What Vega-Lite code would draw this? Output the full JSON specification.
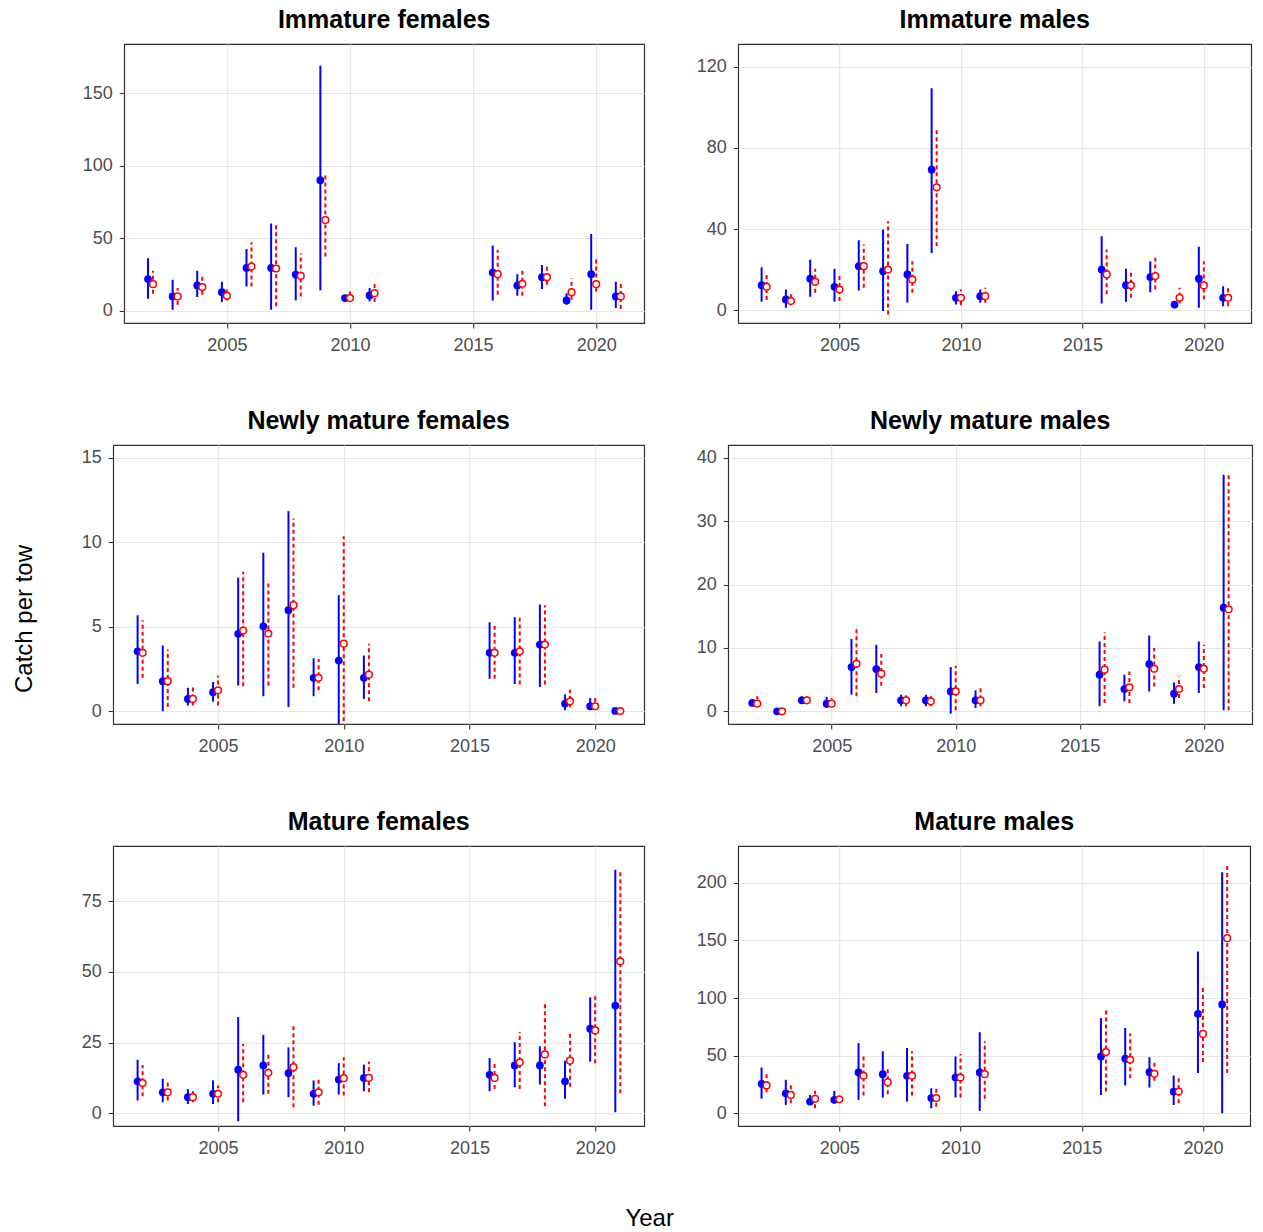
{
  "$schema": "https://vega.github.io/schema/vega-lite/v6.json",
  "padding": {"left": 12, "top": 7, "right": 0, "bottom": 0},
  "background": "white",
  "datasets": {
    "catch": [
      {"panel":"Immature females","series":"A","year":2002,"est":21.8,"lo":8.2,"hi":36.2},
      {"panel":"Immature females","series":"A","year":2003,"est":9.8,"lo":0.7,"hi":21.3},
      {"panel":"Immature females","series":"A","year":2004,"est":17.4,"lo":9.4,"hi":27.5},
      {"panel":"Immature females","series":"A","year":2005,"est":12.8,"lo":6.0,"hi":19.9},
      {"panel":"Immature females","series":"A","year":2006,"est":29.5,"lo":16.7,"hi":42.6},
      {"panel":"Immature females","series":"A","year":2007,"est":29.5,"lo":0.7,"hi":60.2},
      {"panel":"Immature females","series":"A","year":2008,"est":24.9,"lo":7.1,"hi":43.7},
      {"panel":"Immature females","series":"A","year":2009,"est":90.0,"lo":14.0,"hi":169.0},
      {"panel":"Immature females","series":"A","year":2010,"est":8.7,"lo":7.0,"hi":11.0},
      {"panel":"Immature females","series":"A","year":2011,"est":10.5,"lo":6.4,"hi":15.6},
      {"panel":"Immature females","series":"A","year":2016,"est":26.3,"lo":6.9,"hi":44.9},
      {"panel":"Immature females","series":"A","year":2017,"est":17.4,"lo":10.3,"hi":25.2},
      {"panel":"Immature females","series":"A","year":2018,"est":23.1,"lo":14.9,"hi":31.6},
      {"panel":"Immature females","series":"A","year":2019,"est":7.1,"lo":4.1,"hi":12.1},
      {"panel":"Immature females","series":"A","year":2020,"est":25.2,"lo":0.7,"hi":52.9},
      {"panel":"Immature females","series":"A","year":2021,"est":9.8,"lo":1.8,"hi":19.9},
      {"panel":"Immature females","series":"B","year":2002,"est":18.3,"lo":11.7,"hi":27.5},
      {"panel":"Immature females","series":"B","year":2003,"est":9.8,"lo":4.1,"hi":15.6},
      {"panel":"Immature females","series":"B","year":2004,"est":16.3,"lo":11.0,"hi":24.5},
      {"panel":"Immature females","series":"B","year":2005,"est":10.3,"lo":7.1,"hi":16.7},
      {"panel":"Immature females","series":"B","year":2006,"est":30.4,"lo":16.7,"hi":47.2},
      {"panel":"Immature females","series":"B","year":2007,"est":29.1,"lo":3.0,"hi":60.2},
      {"panel":"Immature females","series":"B","year":2008,"est":24.0,"lo":9.8,"hi":39.6},
      {"panel":"Immature females","series":"B","year":2009,"est":62.5,"lo":37.3,"hi":93.4},
      {"panel":"Immature females","series":"B","year":2010,"est":8.7,"lo":6.4,"hi":13.3},
      {"panel":"Immature females","series":"B","year":2011,"est":12.1,"lo":6.0,"hi":18.5},
      {"panel":"Immature females","series":"B","year":2016,"est":25.2,"lo":11.0,"hi":41.9},
      {"panel":"Immature females","series":"B","year":2017,"est":18.5,"lo":10.3,"hi":28.6},
      {"panel":"Immature females","series":"B","year":2018,"est":23.1,"lo":17.9,"hi":30.9},
      {"panel":"Immature females","series":"B","year":2019,"est":12.8,"lo":7.6,"hi":22.4},
      {"panel":"Immature females","series":"B","year":2020,"est":18.3,"lo":13.3,"hi":35.5},
      {"panel":"Immature females","series":"B","year":2021,"est":9.8,"lo":1.2,"hi":19.4},

      {"panel":"Immature males","series":"A","year":2002,"est":12.4,"lo":4.3,"hi":21.3},
      {"panel":"Immature males","series":"A","year":2003,"est":5.4,"lo":1.3,"hi":10.3},
      {"panel":"Immature males","series":"A","year":2004,"est":15.6,"lo":6.7,"hi":25.0},
      {"panel":"Immature males","series":"A","year":2005,"est":11.6,"lo":4.3,"hi":20.5},
      {"panel":"Immature males","series":"A","year":2006,"est":21.8,"lo":9.8,"hi":34.5},
      {"panel":"Immature males","series":"A","year":2007,"est":19.3,"lo":-0.3,"hi":39.8},
      {"panel":"Immature males","series":"A","year":2008,"est":17.7,"lo":3.8,"hi":32.7},
      {"panel":"Immature males","series":"A","year":2009,"est":69.3,"lo":28.3,"hi":109.4},
      {"panel":"Immature males","series":"A","year":2010,"est":6.2,"lo":2.9,"hi":9.5},
      {"panel":"Immature males","series":"A","year":2011,"est":7.0,"lo":3.8,"hi":10.3},
      {"panel":"Immature males","series":"A","year":2016,"est":20.1,"lo":3.4,"hi":36.5},
      {"panel":"Immature males","series":"A","year":2017,"est":12.4,"lo":4.3,"hi":20.5},
      {"panel":"Immature males","series":"A","year":2018,"est":16.4,"lo":9.0,"hi":24.2},
      {"panel":"Immature males","series":"A","year":2019,"est":2.9,"lo":2.1,"hi":4.6},
      {"panel":"Immature males","series":"A","year":2020,"est":15.6,"lo":1.3,"hi":31.3},
      {"panel":"Immature males","series":"A","year":2021,"est":6.2,"lo":2.1,"hi":11.9},
      {"panel":"Immature males","series":"B","year":2002,"est":11.6,"lo":5.1,"hi":18.0},
      {"panel":"Immature males","series":"B","year":2003,"est":4.6,"lo":2.6,"hi":7.9},
      {"panel":"Immature males","series":"B","year":2004,"est":14.1,"lo":8.7,"hi":20.5},
      {"panel":"Immature males","series":"B","year":2005,"est":10.3,"lo":4.6,"hi":16.9},
      {"panel":"Immature males","series":"B","year":2006,"est":21.8,"lo":11.1,"hi":32.4},
      {"panel":"Immature males","series":"B","year":2007,"est":20.1,"lo":-2.0,"hi":43.9},
      {"panel":"Immature males","series":"B","year":2008,"est":15.2,"lo":8.7,"hi":24.2},
      {"panel":"Immature males","series":"B","year":2009,"est":60.6,"lo":31.6,"hi":90.2},
      {"panel":"Immature males","series":"B","year":2010,"est":6.2,"lo":2.6,"hi":10.3},
      {"panel":"Immature males","series":"B","year":2011,"est":7.0,"lo":3.8,"hi":11.1},
      {"panel":"Immature males","series":"B","year":2016,"est":17.7,"lo":7.9,"hi":30.0},
      {"panel":"Immature males","series":"B","year":2017,"est":12.4,"lo":6.2,"hi":20.1},
      {"panel":"Immature males","series":"B","year":2018,"est":16.9,"lo":10.3,"hi":25.9},
      {"panel":"Immature males","series":"B","year":2019,"est":6.2,"lo":3.4,"hi":11.1},
      {"panel":"Immature males","series":"B","year":2020,"est":12.3,"lo":5.4,"hi":24.2},
      {"panel":"Immature males","series":"B","year":2021,"est":6.2,"lo":2.1,"hi":11.1},

      {"panel":"Newly mature females","series":"A","year":2002,"est":3.55,"lo":1.62,"hi":5.68},
      {"panel":"Newly mature females","series":"A","year":2003,"est":1.78,"lo":0.0,"hi":3.89},
      {"panel":"Newly mature females","series":"A","year":2004,"est":0.73,"lo":0.34,"hi":1.39},
      {"panel":"Newly mature females","series":"A","year":2005,"est":1.13,"lo":0.56,"hi":1.74},
      {"panel":"Newly mature females","series":"A","year":2006,"est":4.58,"lo":1.52,"hi":7.9},
      {"panel":"Newly mature females","series":"A","year":2007,"est":5.03,"lo":0.89,"hi":9.38},
      {"panel":"Newly mature females","series":"A","year":2008,"est":5.98,"lo":0.26,"hi":11.84},
      {"panel":"Newly mature females","series":"A","year":2009,"est":1.98,"lo":0.89,"hi":3.14},
      {"panel":"Newly mature females","series":"A","year":2010,"est":3.0,"lo":-1.0,"hi":6.87},
      {"panel":"Newly mature females","series":"A","year":2011,"est":1.98,"lo":0.73,"hi":3.3},
      {"panel":"Newly mature females","series":"A","year":2016,"est":3.46,"lo":1.92,"hi":5.27},
      {"panel":"Newly mature females","series":"A","year":2017,"est":3.46,"lo":1.62,"hi":5.57},
      {"panel":"Newly mature females","series":"A","year":2018,"est":3.95,"lo":1.44,"hi":6.32},
      {"panel":"Newly mature females","series":"A","year":2019,"est":0.46,"lo":0.06,"hi":0.99},
      {"panel":"Newly mature females","series":"A","year":2020,"est":0.3,"lo":0.06,"hi":0.79},
      {"panel":"Newly mature females","series":"A","year":2021,"est":0.02,"lo":0.0,"hi":0.05},
      {"panel":"Newly mature females","series":"B","year":2002,"est":3.46,"lo":1.98,"hi":5.39},
      {"panel":"Newly mature females","series":"B","year":2003,"est":1.78,"lo":0.26,"hi":3.65},
      {"panel":"Newly mature females","series":"B","year":2004,"est":0.73,"lo":0.34,"hi":1.44},
      {"panel":"Newly mature females","series":"B","year":2005,"est":1.24,"lo":0.34,"hi":2.11},
      {"panel":"Newly mature females","series":"B","year":2006,"est":4.78,"lo":1.48,"hi":8.25},
      {"panel":"Newly mature females","series":"B","year":2007,"est":4.6,"lo":1.52,"hi":7.7},
      {"panel":"Newly mature females","series":"B","year":2008,"est":6.28,"lo":1.39,"hi":11.41},
      {"panel":"Newly mature females","series":"B","year":2009,"est":1.98,"lo":1.24,"hi":3.1},
      {"panel":"Newly mature females","series":"B","year":2010,"est":4.0,"lo":-1.0,"hi":10.36},
      {"panel":"Newly mature females","series":"B","year":2011,"est":2.17,"lo":0.59,"hi":4.0},
      {"panel":"Newly mature females","series":"B","year":2016,"est":3.46,"lo":1.92,"hi":5.07},
      {"panel":"Newly mature females","series":"B","year":2017,"est":3.55,"lo":1.58,"hi":5.53},
      {"panel":"Newly mature females","series":"B","year":2018,"est":3.95,"lo":1.58,"hi":6.28},
      {"panel":"Newly mature females","series":"B","year":2019,"est":0.59,"lo":0.26,"hi":1.28},
      {"panel":"Newly mature females","series":"B","year":2020,"est":0.3,"lo":0.14,"hi":0.79},
      {"panel":"Newly mature females","series":"B","year":2021,"est":0.02,"lo":0.0,"hi":0.04},

      {"panel":"Newly mature males","series":"A","year":2002,"est":1.32,"lo":0.9,"hi":1.8},
      {"panel":"Newly mature males","series":"A","year":2003,"est":0.0,"lo":0.0,"hi":0.1},
      {"panel":"Newly mature males","series":"A","year":2004,"est":1.74,"lo":1.3,"hi":2.36},
      {"panel":"Newly mature males","series":"A","year":2005,"est":1.21,"lo":0.53,"hi":2.26},
      {"panel":"Newly mature males","series":"A","year":2006,"est":6.98,"lo":2.62,"hi":11.43},
      {"panel":"Newly mature males","series":"A","year":2007,"est":6.67,"lo":2.9,"hi":10.49},
      {"panel":"Newly mature males","series":"A","year":2008,"est":1.74,"lo":0.79,"hi":2.62},
      {"panel":"Newly mature males","series":"A","year":2009,"est":1.74,"lo":0.79,"hi":2.62},
      {"panel":"Newly mature males","series":"A","year":2010,"est":3.14,"lo":-0.37,"hi":6.98},
      {"panel":"Newly mature males","series":"A","year":2011,"est":1.74,"lo":0.53,"hi":3.3},
      {"panel":"Newly mature males","series":"A","year":2016,"est":5.77,"lo":0.79,"hi":11.0},
      {"panel":"Newly mature males","series":"A","year":2017,"est":3.52,"lo":1.57,"hi":5.77},
      {"panel":"Newly mature males","series":"A","year":2018,"est":7.45,"lo":3.14,"hi":11.95},
      {"panel":"Newly mature males","series":"A","year":2019,"est":2.78,"lo":1.21,"hi":4.56},
      {"panel":"Newly mature males","series":"A","year":2020,"est":6.98,"lo":2.9,"hi":11.0},
      {"panel":"Newly mature males","series":"A","year":2021,"est":16.35,"lo":0.16,"hi":37.3},
      {"panel":"Newly mature males","series":"B","year":2002,"est":1.21,"lo":0.79,"hi":2.36},
      {"panel":"Newly mature males","series":"B","year":2003,"est":0.0,"lo":0.0,"hi":0.2},
      {"panel":"Newly mature males","series":"B","year":2004,"est":1.74,"lo":1.2,"hi":2.36},
      {"panel":"Newly mature males","series":"B","year":2005,"est":1.21,"lo":0.79,"hi":2.1},
      {"panel":"Newly mature males","series":"B","year":2006,"est":7.5,"lo":2.36,"hi":13.0},
      {"panel":"Newly mature males","series":"B","year":2007,"est":5.93,"lo":4.04,"hi":9.02},
      {"panel":"Newly mature males","series":"B","year":2008,"est":1.74,"lo":0.79,"hi":2.99},
      {"panel":"Newly mature males","series":"B","year":2009,"est":1.57,"lo":0.79,"hi":2.36},
      {"panel":"Newly mature males","series":"B","year":2010,"est":3.14,"lo":0.16,"hi":7.19},
      {"panel":"Newly mature males","series":"B","year":2011,"est":1.74,"lo":0.79,"hi":3.68},
      {"panel":"Newly mature males","series":"B","year":2016,"est":6.56,"lo":1.32,"hi":12.48},
      {"panel":"Newly mature males","series":"B","year":2017,"est":3.78,"lo":1.32,"hi":6.29},
      {"panel":"Newly mature males","series":"B","year":2018,"est":6.71,"lo":3.93,"hi":9.97},
      {"panel":"Newly mature males","series":"B","year":2019,"est":3.52,"lo":2.1,"hi":5.5},
      {"panel":"Newly mature males","series":"B","year":2020,"est":6.71,"lo":3.68,"hi":10.49},
      {"panel":"Newly mature males","series":"B","year":2021,"est":16.1,"lo":0.16,"hi":37.3},

      {"panel":"Mature females","series":"A","year":2002,"est":11.3,"lo":4.5,"hi":18.9},
      {"panel":"Mature females","series":"A","year":2003,"est":7.4,"lo":3.9,"hi":12.2},
      {"panel":"Mature females","series":"A","year":2004,"est":5.7,"lo":3.3,"hi":8.6},
      {"panel":"Mature females","series":"A","year":2005,"est":6.9,"lo":3.3,"hi":11.6},
      {"panel":"Mature females","series":"A","year":2006,"est":15.4,"lo":-2.8,"hi":34.0},
      {"panel":"Mature females","series":"A","year":2007,"est":16.9,"lo":6.6,"hi":27.7},
      {"panel":"Mature females","series":"A","year":2008,"est":14.2,"lo":5.7,"hi":23.3},
      {"panel":"Mature females","series":"A","year":2009,"est":6.9,"lo":2.7,"hi":11.6},
      {"panel":"Mature females","series":"A","year":2010,"est":11.9,"lo":6.6,"hi":17.7},
      {"panel":"Mature females","series":"A","year":2011,"est":12.5,"lo":7.8,"hi":17.2},
      {"panel":"Mature females","series":"A","year":2016,"est":13.6,"lo":7.8,"hi":19.5},
      {"panel":"Mature females","series":"A","year":2017,"est":16.9,"lo":9.2,"hi":25.1},
      {"panel":"Mature females","series":"A","year":2018,"est":16.9,"lo":10.2,"hi":23.7},
      {"panel":"Mature females","series":"A","year":2019,"est":11.3,"lo":5.1,"hi":18.6},
      {"panel":"Mature females","series":"A","year":2020,"est":29.9,"lo":18.3,"hi":41.0},
      {"panel":"Mature females","series":"A","year":2021,"est":38.1,"lo":0.35,"hi":86.1},
      {"panel":"Mature females","series":"B","year":2002,"est":10.7,"lo":6.0,"hi":17.1},
      {"panel":"Mature females","series":"B","year":2003,"est":7.4,"lo":4.5,"hi":11.0},
      {"panel":"Mature females","series":"B","year":2004,"est":5.7,"lo":3.9,"hi":8.6},
      {"panel":"Mature females","series":"B","year":2005,"est":6.9,"lo":3.9,"hi":9.8},
      {"panel":"Mature females","series":"B","year":2006,"est":13.6,"lo":3.9,"hi":24.5},
      {"panel":"Mature females","series":"B","year":2007,"est":14.3,"lo":6.9,"hi":21.6},
      {"panel":"Mature females","series":"B","year":2008,"est":16.3,"lo":2.1,"hi":31.4},
      {"panel":"Mature females","series":"B","year":2009,"est":7.4,"lo":3.0,"hi":12.5},
      {"panel":"Mature females","series":"B","year":2010,"est":12.4,"lo":6.3,"hi":19.8},
      {"panel":"Mature females","series":"B","year":2011,"est":12.5,"lo":7.4,"hi":18.3},
      {"panel":"Mature females","series":"B","year":2016,"est":12.5,"lo":8.6,"hi":17.7},
      {"panel":"Mature females","series":"B","year":2017,"est":18.0,"lo":8.6,"hi":28.7},
      {"panel":"Mature females","series":"B","year":2018,"est":20.8,"lo":2.5,"hi":39.3},
      {"panel":"Mature females","series":"B","year":2019,"est":18.6,"lo":9.4,"hi":28.4},
      {"panel":"Mature females","series":"B","year":2020,"est":29.3,"lo":17.7,"hi":41.6},
      {"panel":"Mature females","series":"B","year":2021,"est":53.7,"lo":7.1,"hi":85.3},

      {"panel":"Mature males","series":"A","year":2002,"est":25.6,"lo":12.6,"hi":39.8},
      {"panel":"Mature males","series":"A","year":2003,"est":17.4,"lo":7.3,"hi":29.1},
      {"panel":"Mature males","series":"A","year":2004,"est":10.2,"lo":7.3,"hi":16.0},
      {"panel":"Mature males","series":"A","year":2005,"est":11.7,"lo":8.7,"hi":19.5},
      {"panel":"Mature males","series":"A","year":2006,"est":35.5,"lo":11.7,"hi":61.0},
      {"panel":"Mature males","series":"A","year":2007,"est":34.0,"lo":13.7,"hi":53.8},
      {"panel":"Mature males","series":"A","year":2008,"est":32.6,"lo":10.2,"hi":56.7},
      {"panel":"Mature males","series":"A","year":2009,"est":13.2,"lo":4.4,"hi":21.8},
      {"panel":"Mature males","series":"A","year":2010,"est":31.1,"lo":13.7,"hi":49.4},
      {"panel":"Mature males","series":"A","year":2011,"est":35.5,"lo":2.1,"hi":70.4},
      {"panel":"Mature males","series":"A","year":2016,"est":49.4,"lo":16.0,"hi":82.8},
      {"panel":"Mature males","series":"A","year":2017,"est":47.4,"lo":24.2,"hi":74.1},
      {"panel":"Mature males","series":"A","year":2018,"est":35.7,"lo":22.4,"hi":48.6},
      {"panel":"Mature males","series":"A","year":2019,"est":18.9,"lo":7.3,"hi":32.9},
      {"panel":"Mature males","series":"A","year":2020,"est":86.3,"lo":34.9,"hi":140.4},
      {"panel":"Mature males","series":"A","year":2021,"est":94.5,"lo":0.0,"hi":209.3},
      {"panel":"Mature males","series":"B","year":2002,"est":24.2,"lo":18.3,"hi":34.3},
      {"panel":"Mature males","series":"B","year":2003,"est":16.0,"lo":8.7,"hi":25.3},
      {"panel":"Mature males","series":"B","year":2004,"est":12.6,"lo":4.4,"hi":19.5},
      {"panel":"Mature males","series":"B","year":2005,"est":12.2,"lo":10.2,"hi":14.6},
      {"panel":"Mature males","series":"B","year":2006,"est":32.6,"lo":15.4,"hi":49.4},
      {"panel":"Mature males","series":"B","year":2007,"est":27.0,"lo":16.6,"hi":39.2},
      {"panel":"Mature males","series":"B","year":2008,"est":32.6,"lo":15.4,"hi":53.8},
      {"panel":"Mature males","series":"B","year":2009,"est":13.2,"lo":5.8,"hi":21.8},
      {"panel":"Mature males","series":"B","year":2010,"est":31.1,"lo":13.7,"hi":51.4},
      {"panel":"Mature males","series":"B","year":2011,"est":34.0,"lo":12.6,"hi":62.5},
      {"panel":"Mature males","series":"B","year":2016,"est":53.2,"lo":18.9,"hi":91.0},
      {"panel":"Mature males","series":"B","year":2017,"est":46.5,"lo":30.5,"hi":69.2},
      {"panel":"Mature males","series":"B","year":2018,"est":34.3,"lo":28.2,"hi":44.5},
      {"panel":"Mature males","series":"B","year":2019,"est":18.9,"lo":8.7,"hi":30.5},
      {"panel":"Mature males","series":"B","year":2020,"est":68.9,"lo":44.5,"hi":111.3},
      {"panel":"Mature males","series":"B","year":2021,"est":152.0,"lo":34.9,"hi":216.0}
    ]
  },
  "data": {"name": "catch"},
  "title": {"text": "Catch per tow", "orient": "left", "anchor": "middle", "frame": "bounds", "fontSize": 24, "fontWeight": "normal", "color": "#000000", "offset": 44},
  "vconcat": [
    {
      "title": {"text": "Year", "orient": "bottom", "anchor": "middle", "frame": "bounds", "fontSize": 24, "fontWeight": "normal", "color": "#000000", "offset": 49, "dx": -22},
      "spacing": 53,
      "center": true,
      "vconcat": [
        {
          "spacing": 50,
          "hconcat": [
            {
              "width": 520, "height": 279,
              "title": "Immature females",
              "transform": [{"filter": "datum.panel == 'Immature females'"}],
              "layer": [
                {"transform": [{"filter": "datum.series == 'A'"}],
                 "mark": {"type": "rule", "color": "#0000FF", "strokeWidth": 2, "xOffset": -5, "clip": true},
                 "encoding": {
                   "x": {"field": "year", "type": "quantitative", "scale": {"domain": [2000.83, 2021.95], "nice": false, "zero": false}, "axis": {"values": [2005, 2010, 2015, 2020], "format": "d"}},
                   "y": {"field": "lo", "type": "quantitative", "scale": {"domain": [-8.5, 184], "nice": false, "zero": false}, "axis": {"values": [0, 50, 100, 150]}},
                   "y2": {"field": "hi"}}},
                {"transform": [{"filter": "datum.series == 'A'"}],
                 "mark": {"type": "point", "shape": "circle", "filled": true, "color": "#0000FF", "size": 60, "opacity": 1, "xOffset": -5},
                 "encoding": {"x": {"field": "year", "type": "quantitative", "axis": null}, "y": {"field": "est", "type": "quantitative", "axis": null}}},
                {"transform": [{"filter": "datum.series == 'B'"}],
                 "mark": {"type": "rule", "color": "#FF0000", "strokeWidth": 2, "strokeDash": [4, 3], "clip": true},
                 "encoding": {
                   "x": {"field": "year", "type": "quantitative", "axis": {"values": [2002.5, 2007.5, 2012.5, 2017.5], "orient": "top", "labels": false, "ticks": false, "gridWidth": 0.6, "gridColor": "#EEEEEE"}},
                   "y": {"field": "lo", "type": "quantitative", "axis": {"values": [25, 75, 125, 175], "orient": "right", "labels": false, "ticks": false, "gridWidth": 0.6, "gridColor": "#EEEEEE"}},
                   "y2": {"field": "hi"}}},
                {"transform": [{"filter": "datum.series == 'B'"}],
                 "mark": {"type": "point", "shape": "circle", "filled": true, "fill": "#FFFFFF", "stroke": "#FF0000", "strokeWidth": 1.5, "size": 45, "opacity": 1},
                 "encoding": {"x": {"field": "year", "type": "quantitative", "axis": null}, "y": {"field": "est", "type": "quantitative", "axis": null}}}
              ],
              "resolve": {"axis": {"x": "independent", "y": "independent"}}
            },
            {
              "width": 513, "height": 279,
              "title": "Immature males",
              "transform": [{"filter": "datum.panel == 'Immature males'"}],
              "layer": [
                {"transform": [{"filter": "datum.series == 'A'"}],
                 "mark": {"type": "rule", "color": "#0000FF", "strokeWidth": 2, "xOffset": -5, "clip": true},
                 "encoding": {
                   "x": {"field": "year", "type": "quantitative", "scale": {"domain": [2000.83, 2021.95], "nice": false, "zero": false}, "axis": {"values": [2005, 2010, 2015, 2020], "format": "d"}},
                   "y": {"field": "lo", "type": "quantitative", "scale": {"domain": [-6.2, 131.2], "nice": false, "zero": false}, "axis": {"values": [0, 40, 80, 120]}},
                   "y2": {"field": "hi"}}},
                {"transform": [{"filter": "datum.series == 'A'"}],
                 "mark": {"type": "point", "shape": "circle", "filled": true, "color": "#0000FF", "size": 60, "opacity": 1, "xOffset": -5},
                 "encoding": {"x": {"field": "year", "type": "quantitative", "axis": null}, "y": {"field": "est", "type": "quantitative", "axis": null}}},
                {"transform": [{"filter": "datum.series == 'B'"}],
                 "mark": {"type": "rule", "color": "#FF0000", "strokeWidth": 2, "strokeDash": [4, 3], "clip": true},
                 "encoding": {
                   "x": {"field": "year", "type": "quantitative", "axis": {"values": [2002.5, 2007.5, 2012.5, 2017.5], "orient": "top", "labels": false, "ticks": false, "gridWidth": 0.6, "gridColor": "#EEEEEE"}},
                   "y": {"field": "lo", "type": "quantitative", "axis": {"values": [20, 60, 100], "orient": "right", "labels": false, "ticks": false, "gridWidth": 0.6, "gridColor": "#EEEEEE"}},
                   "y2": {"field": "hi"}}},
                {"transform": [{"filter": "datum.series == 'B'"}],
                 "mark": {"type": "point", "shape": "circle", "filled": true, "fill": "#FFFFFF", "stroke": "#FF0000", "strokeWidth": 1.5, "size": 45, "opacity": 1},
                 "encoding": {"x": {"field": "year", "type": "quantitative", "axis": null}, "y": {"field": "est", "type": "quantitative", "axis": null}}}
              ],
              "resolve": {"axis": {"x": "independent", "y": "independent"}}
            }
          ]
        },
        {
          "spacing": 50,
          "hconcat": [
            {
              "width": 531, "height": 279,
              "title": "Newly mature females",
              "transform": [{"filter": "datum.panel == 'Newly mature females'"}],
              "layer": [
                {"transform": [{"filter": "datum.series == 'A'"}],
                 "mark": {"type": "rule", "color": "#0000FF", "strokeWidth": 2, "xOffset": -5, "clip": true},
                 "encoding": {
                   "x": {"field": "year", "type": "quantitative", "scale": {"domain": [2000.83, 2021.95], "nice": false, "zero": false}, "axis": {"values": [2005, 2010, 2015, 2020], "format": "d"}},
                   "y": {"field": "lo", "type": "quantitative", "scale": {"domain": [-0.75, 15.75], "nice": false, "zero": false}, "axis": {"values": [0, 5, 10, 15]}},
                   "y2": {"field": "hi"}}},
                {"transform": [{"filter": "datum.series == 'A'"}],
                 "mark": {"type": "point", "shape": "circle", "filled": true, "color": "#0000FF", "size": 60, "opacity": 1, "xOffset": -5},
                 "encoding": {"x": {"field": "year", "type": "quantitative", "axis": null}, "y": {"field": "est", "type": "quantitative", "axis": null}}},
                {"transform": [{"filter": "datum.series == 'B'"}],
                 "mark": {"type": "rule", "color": "#FF0000", "strokeWidth": 2, "strokeDash": [4, 3], "clip": true},
                 "encoding": {
                   "x": {"field": "year", "type": "quantitative", "axis": {"values": [2002.5, 2007.5, 2012.5, 2017.5], "orient": "top", "labels": false, "ticks": false, "gridWidth": 0.6, "gridColor": "#EEEEEE"}},
                   "y": {"field": "lo", "type": "quantitative", "axis": {"values": [2.5, 7.5, 12.5], "orient": "right", "labels": false, "ticks": false, "gridWidth": 0.6, "gridColor": "#EEEEEE"}},
                   "y2": {"field": "hi"}}},
                {"transform": [{"filter": "datum.series == 'B'"}],
                 "mark": {"type": "point", "shape": "circle", "filled": true, "fill": "#FFFFFF", "stroke": "#FF0000", "strokeWidth": 1.5, "size": 45, "opacity": 1},
                 "encoding": {"x": {"field": "year", "type": "quantitative", "axis": null}, "y": {"field": "est", "type": "quantitative", "axis": null}}}
              ],
              "resolve": {"axis": {"x": "independent", "y": "independent"}}
            },
            {
              "width": 524, "height": 279,
              "title": "Newly mature males",
              "transform": [{"filter": "datum.panel == 'Newly mature males'"}],
              "layer": [
                {"transform": [{"filter": "datum.series == 'A'"}],
                 "mark": {"type": "rule", "color": "#0000FF", "strokeWidth": 2, "xOffset": -5, "clip": true},
                 "encoding": {
                   "x": {"field": "year", "type": "quantitative", "scale": {"domain": [2000.83, 2021.95], "nice": false, "zero": false}, "axis": {"values": [2005, 2010, 2015, 2020], "format": "d"}},
                   "y": {"field": "lo", "type": "quantitative", "scale": {"domain": [-2, 42], "nice": false, "zero": false}, "axis": {"values": [0, 10, 20, 30, 40]}},
                   "y2": {"field": "hi"}}},
                {"transform": [{"filter": "datum.series == 'A'"}],
                 "mark": {"type": "point", "shape": "circle", "filled": true, "color": "#0000FF", "size": 60, "opacity": 1, "xOffset": -5},
                 "encoding": {"x": {"field": "year", "type": "quantitative", "axis": null}, "y": {"field": "est", "type": "quantitative", "axis": null}}},
                {"transform": [{"filter": "datum.series == 'B'"}],
                 "mark": {"type": "rule", "color": "#FF0000", "strokeWidth": 2, "strokeDash": [4, 3], "clip": true},
                 "encoding": {
                   "x": {"field": "year", "type": "quantitative", "axis": {"values": [2002.5, 2007.5, 2012.5, 2017.5], "orient": "top", "labels": false, "ticks": false, "gridWidth": 0.6, "gridColor": "#EEEEEE"}},
                   "y": {"field": "lo", "type": "quantitative", "axis": {"values": [5, 15, 25, 35], "orient": "right", "labels": false, "ticks": false, "gridWidth": 0.6, "gridColor": "#EEEEEE", "minExtent": 10}},
                   "y2": {"field": "hi"}}},
                {"transform": [{"filter": "datum.series == 'B'"}],
                 "mark": {"type": "point", "shape": "circle", "filled": true, "fill": "#FFFFFF", "stroke": "#FF0000", "strokeWidth": 1.5, "size": 45, "opacity": 1},
                 "encoding": {"x": {"field": "year", "type": "quantitative", "axis": null}, "y": {"field": "est", "type": "quantitative", "axis": null}}}
              ],
              "resolve": {"axis": {"x": "independent", "y": "independent"}}
            }
          ]
        },
        {
          "spacing": 50,
          "hconcat": [
            {
              "width": 531, "height": 280,
              "title": "Mature females",
              "transform": [{"filter": "datum.panel == 'Mature females'"}],
              "layer": [
                {"transform": [{"filter": "datum.series == 'A'"}],
                 "mark": {"type": "rule", "color": "#0000FF", "strokeWidth": 2, "xOffset": -5, "clip": true},
                 "encoding": {
                   "x": {"field": "year", "type": "quantitative", "scale": {"domain": [2000.83, 2021.95], "nice": false, "zero": false}, "axis": {"values": [2005, 2010, 2015, 2020], "format": "d"}},
                   "y": {"field": "lo", "type": "quantitative", "scale": {"domain": [-4.5, 94.5], "nice": false, "zero": false}, "axis": {"values": [0, 25, 50, 75]}},
                   "y2": {"field": "hi"}}},
                {"transform": [{"filter": "datum.series == 'A'"}],
                 "mark": {"type": "point", "shape": "circle", "filled": true, "color": "#0000FF", "size": 60, "opacity": 1, "xOffset": -5},
                 "encoding": {"x": {"field": "year", "type": "quantitative", "axis": null}, "y": {"field": "est", "type": "quantitative", "axis": null}}},
                {"transform": [{"filter": "datum.series == 'B'"}],
                 "mark": {"type": "rule", "color": "#FF0000", "strokeWidth": 2, "strokeDash": [4, 3], "clip": true},
                 "encoding": {
                   "x": {"field": "year", "type": "quantitative", "axis": {"values": [2002.5, 2007.5, 2012.5, 2017.5], "orient": "top", "labels": false, "ticks": false, "gridWidth": 0.6, "gridColor": "#EEEEEE"}},
                   "y": {"field": "lo", "type": "quantitative", "axis": {"values": [12.5, 37.5, 62.5, 87.5], "orient": "right", "labels": false, "ticks": false, "gridWidth": 0.6, "gridColor": "#EEEEEE"}},
                   "y2": {"field": "hi"}}},
                {"transform": [{"filter": "datum.series == 'B'"}],
                 "mark": {"type": "point", "shape": "circle", "filled": true, "fill": "#FFFFFF", "stroke": "#FF0000", "strokeWidth": 1.5, "size": 45, "opacity": 1},
                 "encoding": {"x": {"field": "year", "type": "quantitative", "axis": null}, "y": {"field": "est", "type": "quantitative", "axis": null}}}
              ],
              "resolve": {"axis": {"x": "independent", "y": "independent"}}
            },
            {
              "width": 512, "height": 280,
              "title": "Mature males",
              "transform": [{"filter": "datum.panel == 'Mature males'"}],
              "layer": [
                {"transform": [{"filter": "datum.series == 'A'"}],
                 "mark": {"type": "rule", "color": "#0000FF", "strokeWidth": 2, "xOffset": -5, "clip": true},
                 "encoding": {
                   "x": {"field": "year", "type": "quantitative", "scale": {"domain": [2000.83, 2021.95], "nice": false, "zero": false}, "axis": {"values": [2005, 2010, 2015, 2020], "format": "d"}},
                   "y": {"field": "lo", "type": "quantitative", "scale": {"domain": [-11, 232], "nice": false, "zero": false}, "axis": {"values": [0, 50, 100, 150, 200]}},
                   "y2": {"field": "hi"}}},
                {"transform": [{"filter": "datum.series == 'A'"}],
                 "mark": {"type": "point", "shape": "circle", "filled": true, "color": "#0000FF", "size": 60, "opacity": 1, "xOffset": -5},
                 "encoding": {"x": {"field": "year", "type": "quantitative", "axis": null}, "y": {"field": "est", "type": "quantitative", "axis": null}}},
                {"transform": [{"filter": "datum.series == 'B'"}],
                 "mark": {"type": "rule", "color": "#FF0000", "strokeWidth": 2, "strokeDash": [4, 3], "clip": true},
                 "encoding": {
                   "x": {"field": "year", "type": "quantitative", "axis": {"values": [2002.5, 2007.5, 2012.5, 2017.5], "orient": "top", "labels": false, "ticks": false, "gridWidth": 0.6, "gridColor": "#EEEEEE"}},
                   "y": {"field": "lo", "type": "quantitative", "axis": {"values": [25, 75, 125, 175, 225], "orient": "right", "labels": false, "ticks": false, "gridWidth": 0.6, "gridColor": "#EEEEEE", "minExtent": 12}},
                   "y2": {"field": "hi"}}},
                {"transform": [{"filter": "datum.series == 'B'"}],
                 "mark": {"type": "point", "shape": "circle", "filled": true, "fill": "#FFFFFF", "stroke": "#FF0000", "strokeWidth": 1.5, "size": 45, "opacity": 1},
                 "encoding": {"x": {"field": "year", "type": "quantitative", "axis": null}, "y": {"field": "est", "type": "quantitative", "axis": null}}}
              ],
              "resolve": {"axis": {"x": "independent", "y": "independent"}}
            }
          ]
        }
      ]
    }
  ],
  "config": {
    "font": "Liberation Sans",
    "view": {"stroke": "#333333", "strokeWidth": 1.2},
    "axis": {"labelFont": "Liberation Sans", "labelFontSize": 18, "labelColor": "#4D4D4D", "tickColor": "#333333", "tickSize": 5, "tickWidth": 1.1, "domain": false, "gridColor": "#E6E6E6", "gridWidth": 1.1, "title": null, "minExtent": 0},
    "axisX": {"labelPadding": 8},
    "axisY": {"labelPadding": 7},
    "title": {"font": "Liberation Sans", "fontSize": 25, "fontWeight": "bold", "color": "#000000", "anchor": "middle", "frame": "group", "offset": 11}
  }
}
